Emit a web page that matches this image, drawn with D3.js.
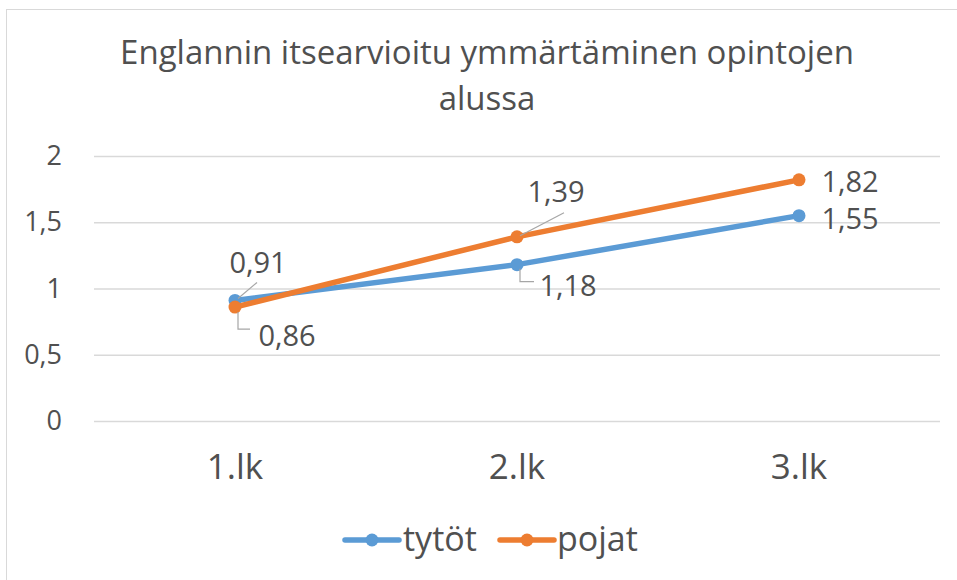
<!DOCTYPE html>
<html>
<head>
<meta charset="utf-8">
<script src="https://cdn.jsdelivr.net/npm/d3@7"></script>
<style>
  body { margin: 0; background: #fff; overflow: hidden; }
  svg text { font-family: 'Open Sans', 'Noto Sans', sans-serif; fill: #505050; }
</style>
</head>
<body>
<svg width="957" height="580"></svg>
<script>
const categories = ['1.lk', '2.lk', '3.lk'];
const tytot = [0.91, 1.18, 1.55];
const pojat = [0.86, 1.39, 1.82];
const yTicks = [0, 0.5, 1, 1.5, 2];
const seriesNames = ['tytöt', 'pojat'];
const colors = ['#5B9BD5', '#ED7D31'];

const svg = d3.select('svg');
const margin = { top: 156, left: 94, right: 17, bottom: 159 };
const width = 957, height = 580;
const innerWidth = width - margin.left - margin.right;
const innerHeight = height - margin.top - margin.bottom;
const fmt = d => String(d).replace('.', ',');

// chart frame (right and bottom edges fall outside the crop)
svg.append('rect')
  .attr('x', 6.5).attr('y', 9.5)
  .attr('width', 952).attr('height', 572)
  .attr('fill', '#fff').attr('stroke', '#d9d9d9');

const title = svg.append('text')
  .attr('text-anchor', 'middle')
  .attr('font-size', 33);
title.append('tspan').attr('x', 487).attr('y', 64).text('Englannin itsearvioitu ymmärtäminen opintojen');
title.append('tspan').attr('x', 487).attr('y', 110).text('alussa');

const xScale = d3.scaleBand().domain(categories).range([0, innerWidth]);
const yScale = d3.scaleLinear().domain([0, 2]).range([innerHeight, 0]);

const g = svg.append('g').attr('transform', `translate(${margin.left},${margin.top})`);

const yAxis = d3.axisLeft(yScale)
  .tickValues(yTicks)
  .tickSize(-innerWidth)
  .tickPadding(32)
  .tickFormat(fmt);
const yAxisG = g.append('g').call(yAxis);
yAxisG.select('.domain').remove();
yAxisG.selectAll('line').attr('stroke', '#d9d9d9').attr('stroke-width', 1.3);
yAxisG.selectAll('text').attr('font-size', 27).attr('fill', '#505050');

const xAxis = d3.axisBottom(xScale).tickSize(0).tickPadding(33);
const xAxisG = g.append('g').attr('transform', `translate(0,${innerHeight})`).call(xAxis);
xAxisG.select('.domain').remove();
xAxisG.selectAll('text').attr('font-size', 35).attr('fill', '#505050');

const xPos = c => xScale(c) + xScale.bandwidth() / 2;
const line = d3.line().x((d, i) => xPos(categories[i])).y(d => yScale(d));

[tytot, pojat].forEach((s, k) => {
  g.append('path')
    .attr('d', line(s))
    .attr('fill', 'none')
    .attr('stroke', colors[k])
    .attr('stroke-width', 5.5)
    .attr('stroke-linecap', 'round');
  g.selectAll(null).data(s).enter().append('circle')
    .attr('cx', (d, i) => xPos(categories[i]))
    .attr('cy', d => yScale(d))
    .attr('r', 6.5)
    .attr('fill', colors[k]);
});

// data labels: offsets relative to point, and optional leader line
const labelSpecs = [
  // tytot
  [{ dx: 23, dy: -27, leader: [[22, -18], [3, -2]] },
   { dx: 51, dy: 31, leader: [[3, 4], [3, 17], [17, 17]] },
   { dx: 51, dy: 13 }],
  // pojat
  [{ dx: 52, dy: 39, leader: [[3, 5], [3, 22], [15, 22]] },
   { dx: 39, dy: -35, leader: [[47, -24], [3, -1]] },
   { dx: 51, dy: 12 }]
];

[tytot, pojat].forEach((s, k) => {
  s.forEach((v, i) => {
    const px = xPos(categories[i]), py = yScale(v);
    const spec = labelSpecs[k][i];
    if (spec.leader) {
      g.append('polyline')
        .attr('points', spec.leader.map(p => `${px + p[0]},${py + p[1]}`).join(' '))
        .attr('fill', 'none')
        .attr('stroke', '#a6a6a6')
        .attr('stroke-width', 1.2);
    }
    g.append('text')
      .attr('x', px + spec.dx)
      .attr('y', py + spec.dy)
      .attr('text-anchor', 'middle')
      .attr('font-size', 29)
      .text(fmt(v));
  });
});

// legend
const legendItems = [{ x: 345, tx: 403 }, { x: 500, tx: 557 }];
seriesNames.forEach((name, k) => {
  const lg = svg.append('g');
  const ly = 540;
  lg.append('line')
    .attr('x1', legendItems[k].x).attr('x2', legendItems[k].x + 54)
    .attr('y1', ly).attr('y2', ly)
    .attr('stroke', colors[k]).attr('stroke-width', 5.5).attr('stroke-linecap', 'round');
  lg.append('circle')
    .attr('cx', legendItems[k].x + 27).attr('cy', ly).attr('r', 6.5).attr('fill', colors[k]);
  lg.append('text')
    .attr('x', legendItems[k].tx).attr('y', ly + 11)
    .attr('font-size', 34)
    .text(name);
});
</script>
</body>
</html>
